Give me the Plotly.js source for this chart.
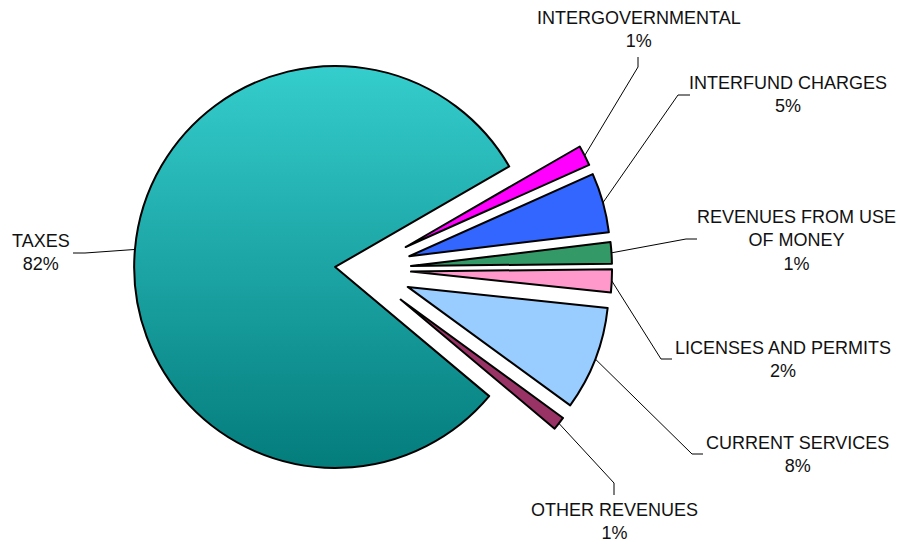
<!DOCTYPE html>
<html><head><meta charset="utf-8">
<script src="https://cdn.plot.ly/plotly-3.0.1.min.js"></script>
<style>html,body{margin:0;padding:0;background:#fff}#chart{width:900px;height:544px}</style>
</head><body><div id="chart"></div>
<script>
// ---- data ----
const categories = ["INTERGOVERNMENTAL", "INTERFUND CHARGES", "REVENUES FROM USE OF MONEY", "LICENSES AND PERMITS", "CURRENT SERVICES", "OTHER REVENUES", "TAXES"];
const values = [1.64, 4.79, 1.71, 1.86, 8.36, 1.08, 80.56];
const percentText = ["1%", "5%", "1%", "2%", "8%", "1%", "82%"];
const labelText = ["INTERGOVERNMENTAL", "INTERFUND CHARGES", "REVENUES FROM USE<br>OF MONEY", "LICENSES AND PERMITS", "CURRENT SERVICES", "OTHER REVENUES", "TAXES"];

// ---- styles / layout ----
const colors = ["#FF00FF", "#3366FF", "#339966", "#FF99CC", "#99CCFF", "#993366", "#1FA6A6"];
const pulls = [0.244, 0.244, 0.244, 0.244, 0.244, 0.244, 0.134];
const W = 900, H = 544, CX = 362, CY = 269.3, R = 201, ROT = 60;
// label centre x and caps-top y (px)
const labelPos = [[639, 12], [788, 77], [796.5, 210.5], [782.5, 341.5], [797.5, 436.5], [614, 504], [41, 235]];
// leader elbows and end points (px)
const elbowPx = [[638, 67], [678, 95], [686, 239], [661, 359], [692, 454], [614, 483], [85, 253]];
const endPx = [[638, 57], [690, 95], [697, 239], [672, 359], [703, 454], [614, 495], [73, 253]];

const maxPull = Math.max(...pulls);
const half = R * (1 + maxPull);
const domain = {
  x: [(CX - half) / W, (CX + half) / W],
  y: [(H - (CY + half)) / H, (H - (CY - half)) / H]
};

const px2x = x => x / W, px2y = y => 1 - y / H;
const total = values.reduce((a, b) => a + b, 0);
let cum = 0;
const shapes = [], annotations = [];
values.forEach((v, i) => {
  const mid = (ROT + 360 * (cum + v / 2) / total) * Math.PI / 180;
  cum += v;
  const d = R * (1 + pulls[i]);
  const ax = CX + d * Math.sin(mid), ay = CY - d * Math.cos(mid);
  const [ex, ey] = elbowPx[i], [fx, fy] = endPx[i];
  shapes.push({
    type: 'path', xref: 'paper', yref: 'paper',
    path: `M ${px2x(ax)} ${px2y(ay)} L ${px2x(ex)} ${px2y(ey)} L ${px2x(fx)} ${px2y(fy)}`,
    line: {color: '#000', width: 1}
  });
  annotations.push({
    xref: 'paper', yref: 'paper', x: px2x(labelPos[i][0]), y: px2y(labelPos[i][1] - 6),
    xanchor: 'center', yanchor: 'top', showarrow: false, align: 'center',
    text: labelText[i] + '<br>' + percentText[i],
    font: {family: '"Liberation Sans", Arial, sans-serif', size: 18, color: '#111'}
  });
});

const trace = {
  type: 'pie', labels: categories, values: values, sort: false,
  direction: 'clockwise', rotation: ROT, pull: pulls,
  marker: {colors: colors, line: {color: '#000', width: 2}},
  textinfo: 'none', hoverinfo: 'label+percent', domain: domain
};
const layout = {
  width: W, height: H, margin: {l: 0, r: 0, t: 0, b: 0},
  showlegend: false, paper_bgcolor: '#fff', plot_bgcolor: '#fff',
  shapes: shapes, annotations: annotations
};
Plotly.newPlot('chart', [trace], layout, {displayModeBar: false, staticPlot: true}).then(gd => {
  const svg = gd.querySelector('.main-svg');
  const ns = 'http://www.w3.org/2000/svg';
  let defs = svg.querySelector('defs');
  if (!defs) { defs = document.createElementNS(ns, 'defs'); svg.insertBefore(defs, svg.firstChild); }
  const lg = document.createElementNS(ns, 'linearGradient');
  lg.setAttribute('id', 'taxGrad');
  lg.setAttribute('x1', '0'); lg.setAttribute('y1', '0'); lg.setAttribute('x2', '0'); lg.setAttribute('y2', '1');
  [['0', '#35CDCD'], ['1', '#047C7C']].forEach(([o, c]) => {
    const s = document.createElementNS(ns, 'stop');
    s.setAttribute('offset', o); s.setAttribute('stop-color', c); lg.appendChild(s);
  });
  defs.appendChild(lg);
  const slices = gd.querySelectorAll('g.slice');
  const idx = categories.indexOf('TAXES');
  if (slices[idx]) {
    const p = slices[idx].querySelector('path.surface');
    if (p) p.style.fill = 'url(#taxGrad)';
  }
});
</script>
</body></html>
